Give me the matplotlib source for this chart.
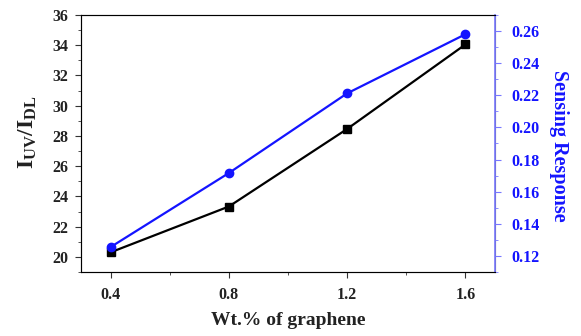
import matplotlib
matplotlib.use("Agg")
import matplotlib.pyplot as plt
from matplotlib.ticker import MultipleLocator, FormatStrFormatter

plt.rcParams['font.family'] = ['Liberation Serif', 'DejaVu Serif']
plt.rcParams['font.weight'] = 'bold'
plt.rcParams['mathtext.fontset'] = 'custom'
plt.rcParams['mathtext.rm'] = 'Liberation Serif:bold'
plt.rcParams['mathtext.bf'] = 'Liberation Serif:bold'
plt.rcParams['mathtext.it'] = 'Liberation Serif:bold'

# data
wt = [0.4, 0.8, 1.2, 1.6]
ratio = [20.3, 23.33, 28.46, 34.05]
response = [0.1255, 0.1716, 0.2212, 0.258]

blue = '#1414ff'
spine_blue = '#7878ff'

fig = plt.figure(figsize=(5.81, 3.36), dpi=100)
ax = fig.add_axes([0.1394, 0.1905, 0.7126, 0.765])
ax.plot(wt, ratio, color='black', lw=1.6, marker='s', ms=5.5)
ax.set_xlim(0.3, 1.7)
ax.set_ylim(19, 36)
ax.set_xticks(wt)
ax.set_xticklabels(['0.4', '0.8', '1.2', '1.6'])
ax.xaxis.set_minor_locator(MultipleLocator(0.2))
ax.yaxis.set_major_locator(MultipleLocator(2))
ax.yaxis.set_minor_locator(MultipleLocator(1))
ax.tick_params(which='both', direction='out', labelsize=11.5, colors='#333333', labelcolor='#222222')
ax.tick_params(which='major', length=4)
ax.tick_params(which='minor', length=2.5)
ax.tick_params(axis='x', pad=7)
ax.tick_params(axis='y', pad=5)
for s in ax.spines.values():
    s.set_color('#555555')
ax.set_xlabel('Wt.% of graphene', fontsize=14, fontweight='bold', labelpad=6, color='#222222')
ax.set_ylabel(r'$\mathbf{I_{UV}/I_{DL}}$', fontsize=17, color='#222222', va='center')
ax.yaxis.set_label_coords(-0.128, 0.545)

ax2 = ax.twinx()
ax2.plot(wt, response, color=blue, lw=1.6, marker='o', ms=6)
ax2.set_ylim(0.11, 0.27)
ax2.yaxis.set_major_locator(MultipleLocator(0.02))
ax2.yaxis.set_minor_locator(MultipleLocator(0.01))
ax2.yaxis.set_major_formatter(FormatStrFormatter('%.2f'))
ax2.tick_params(which='both', direction='out', labelsize=11.5, colors=spine_blue, labelcolor=blue)
ax2.tick_params(which='major', length=4, pad=8)
ax2.tick_params(which='minor', length=2.5)
ax2.spines['right'].set_color(spine_blue)
ax2.spines['right'].set_linewidth(1.2)
ax2.set_ylabel('Sensing Response', fontsize=14.5, fontweight='bold', color=blue,
               rotation=270, va='center')
ax2.yaxis.set_label_coords(1.155, 0.49)

fig.savefig('out.png', dpi=100)
